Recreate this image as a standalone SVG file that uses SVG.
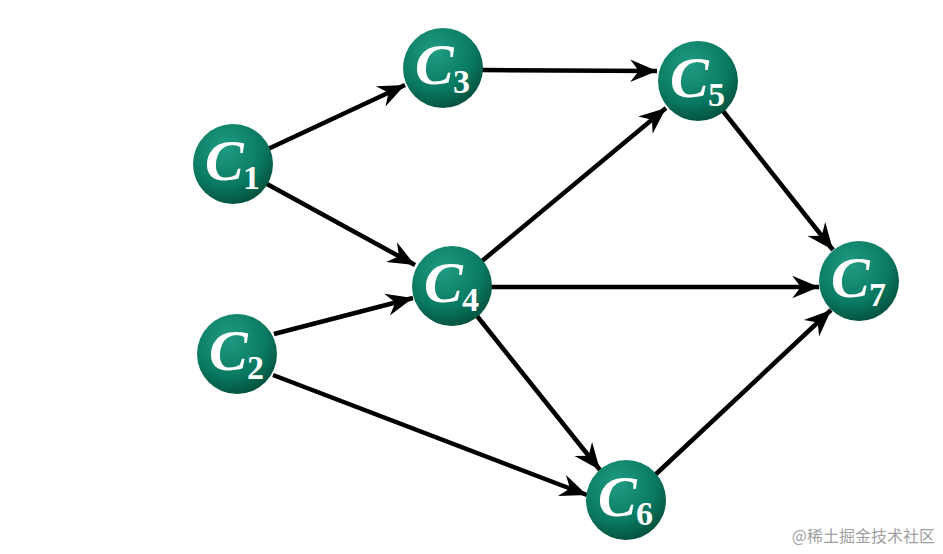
<svg xmlns="http://www.w3.org/2000/svg" width="943" height="554" viewBox="0 0 943 554">
<defs>
<radialGradient id="g" cx="0.4" cy="0.3" r="0.72">
<stop offset="0" stop-color="#1f9c82"/>
<stop offset="0.65" stop-color="#0a7a62"/>
<stop offset="1" stop-color="#03523e"/>
</radialGradient>
<marker id="ah" markerUnits="userSpaceOnUse" markerWidth="30" markerHeight="30" viewBox="-26 -12 28 24" refX="0" refY="0" orient="auto">
<path d="M0,0 L-25,-10.5 L-17,0 L-25,10.5 Z" fill="#000"/>
</marker>
<style>
.e{stroke:#000;stroke-width:4.5;fill:none;marker-end:url(#ah)}
.n circle{fill:url(#g)}
.c{font-family:"Liberation Serif","Times New Roman",serif;font-style:italic;font-weight:bold;font-size:58px;fill:#fff}
.s{font-family:"Liberation Serif","Times New Roman",serif;font-weight:bold;font-size:34px;fill:#fff}
</style>
</defs>
<rect width="943" height="554" fill="#fff"/>
<g id="connectors">
<line class="e" x1="268" y1="149" x2="405" y2="85"/>
<line class="e" x1="267" y1="184" x2="415" y2="265"/>
<line class="e" x1="482" y1="70" x2="657" y2="71"/>
<line class="e" x1="482" y1="261" x2="666" y2="108"/>
<line class="e" x1="491" y1="287" x2="819" y2="287"/>
<line class="e" x1="477" y1="316" x2="600" y2="470"/>
<line class="e" x1="274" y1="334" x2="413" y2="298"/>
<line class="e" x1="273" y1="375" x2="587" y2="495"/>
<line class="e" x1="723" y1="111" x2="833" y2="250"/>
<line class="e" x1="655" y1="475" x2="831" y2="310"/>
</g>
<g id="C1" class="n"><circle cx="233" cy="164" r="40"/><text class="c" x="205" y="180">C</text><text class="s" x="243" y="189">1</text></g>
<g id="C2" class="n"><circle cx="237" cy="354" r="40"/><text class="c" x="209" y="370">C</text><text class="s" x="247" y="379">2</text></g>
<g id="C3" class="n"><circle cx="443" cy="68" r="40"/><text class="c" x="415" y="84">C</text><text class="s" x="453" y="93">3</text></g>
<g id="C4" class="n"><circle cx="452" cy="286" r="40"/><text class="c" x="424" y="302">C</text><text class="s" x="462" y="311">4</text></g>
<g id="C5" class="n"><circle cx="698" cy="81" r="40"/><text class="c" x="670" y="97">C</text><text class="s" x="708" y="106">5</text></g>
<g id="C6" class="n"><circle cx="626" cy="500" r="40"/><text class="c" x="598" y="516">C</text><text class="s" x="636" y="525">6</text></g>
<g id="C7" class="n"><circle cx="859" cy="281" r="40"/><text class="c" x="831" y="297">C</text><text class="s" x="869" y="306">7</text></g>
<text x="935" y="542" text-anchor="end" font-family="'Noto Sans CJK SC',sans-serif" font-size="16" fill="#a0a0a0">@稀土掘金技术社区</text>
</svg>
